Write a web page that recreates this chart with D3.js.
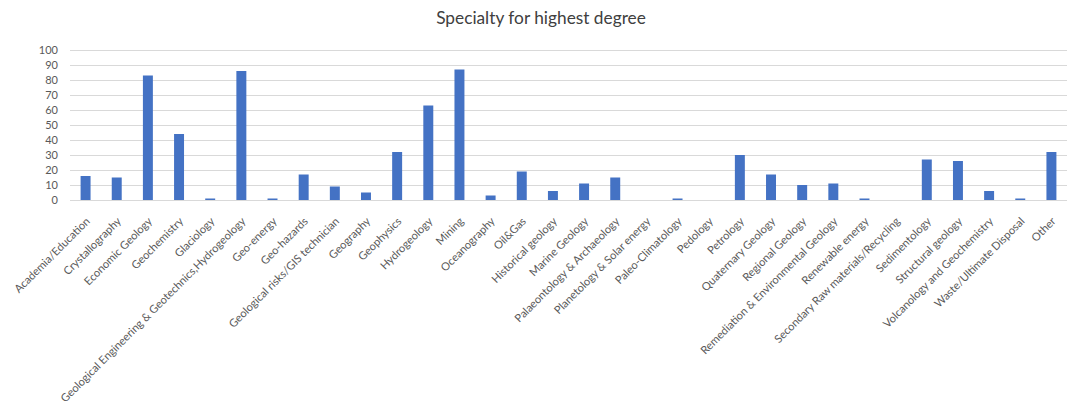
<!DOCTYPE html>
<html>
<head>
<meta charset="utf-8">
<script src="https://cdn.jsdelivr.net/npm/d3@7"></script>
<style>
  html, body { margin: 0; padding: 0; background: #fff; }
  svg { display: block; font-family: Lato, "Open Sans", sans-serif; }
</style>
</head>
<body>
<div id="chart"></div>
<script>
const title = 'Specialty for highest degree';

const specialties = [
    'Academia/Education', 'Crystallography', 'Economic Geology', 'Geochemistry',
    'Glaciology', 'Geological Engineering & Geotechnics,Hydrogeology', 'Geo-energy',
    'Geo-hazards', 'Geological risks/GIS technician', 'Geography', 'Geophysics',
    'Hydrogeology', 'Mining', 'Oceanography', 'Oil&Gas', 'Historical geology',
    'Marine Geology', 'Palaeontology & Archaeology', 'Planetology & Solar energy',
    'Paleo-Climatology', 'Pedology', 'Petrology', 'Quaternary Geology',
    'Regional Geology', 'Remediation & Environmental Geology', 'Renewable energy',
    'Secondary Raw materials/Recycling', 'Sedimentology', 'Structural geology',
    'Volcanology and Geochemistry', 'Waste/Ultimate Disposal', 'Other'
];

const counts = [
    16, 15, 83, 44, 1, 86, 1, 17, 9, 5, 32,
    63, 87, 3, 19, 6, 11, 15, 0, 1, 0, 30,
    17, 10, 11, 1, 0, 27, 26, 6, 1, 32
];

const yTicks = [0, 10, 20, 30, 40, 50, 60, 70, 80, 90, 100];

const W = 1082, H = 411;
const margin = { top: 50, right: 15, bottom: 211, left: 70 };
const width = W - margin.left - margin.right;
const height = H - margin.top - margin.bottom;

const svg = d3.select('#chart').append('svg')
    .attr('width', W)
    .attr('height', H);

svg.append('text')
    .attr('x', 541)
    .attr('y', 24)
    .attr('text-anchor', 'middle')
    .attr('font-size', 17.3)
    .attr('fill', '#404040')
    .text(title);

const x = d3.scaleBand()
    .domain(specialties)
    .range([0, width])
    .paddingInner(0.68)
    .paddingOuter(0.34);

const y = d3.scaleLinear()
    .domain([0, 100])
    .range([height, 0]);

const g = svg.append('g')
    .attr('transform', `translate(${margin.left},${margin.top})`);

// gridlines
g.append('g')
    .selectAll('line')
    .data(yTicks)
    .join('line')
    .attr('x1', 0)
    .attr('x2', width)
    .attr('y1', d => Math.round(y(d)) + 0.5)
    .attr('y2', d => Math.round(y(d)) + 0.5)
    .attr('stroke', '#d9d9d9')
    .attr('stroke-width', 1);

// y axis labels
const yAxis = g.append('g')
    .call(d3.axisLeft(y).tickValues(yTicks).tickSize(0).tickPadding(12));
yAxis.select('.domain').remove();
yAxis.selectAll('text')
    .attr('font-family', 'Lato, sans-serif')
    .attr('font-size', 11)
    .attr('fill', '#595959');

// bars
g.selectAll('rect.bar')
    .data(counts)
    .join('rect')
    .attr('class', 'bar')
    .attr('x', (d, i) => x(specialties[i]))
    .attr('width', x.bandwidth())
    .attr('y', d => y(d))
    .attr('height', d => y(0) - y(d))
    .attr('fill', '#4472c4');

// x axis labels
const xAxis = g.append('g')
    .attr('transform', `translate(0,${height})`)
    .call(d3.axisBottom(x).tickSize(0).tickPadding(0));
xAxis.select('.domain').remove();
xAxis.selectAll('text')
    .attr('font-family', 'Lato, sans-serif')
    .attr('font-size', 11.1)
    .attr('fill', '#595959')
    .attr('text-anchor', 'end')
    .attr('dy', null)
    .attr('y', 0)
    .attr('transform', 'translate(5,22) rotate(-45)');
</script>
</body>
</html>
